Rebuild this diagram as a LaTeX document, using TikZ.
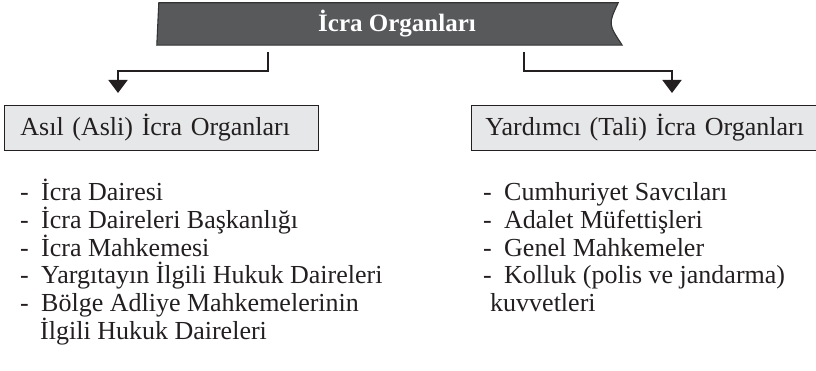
\documentclass[tikz,border=0pt]{standalone}
\usepackage{fontspec}
\setmainfont{Liberation Serif}
\usetikzlibrary{arrows.meta,backgrounds,calc}
\definecolor{bannergray}{HTML}{58595B}
\definecolor{boxgray}{HTML}{E6E7E8}
\definecolor{inkdark}{HTML}{231F20}

\begin{document}
\begin{tikzpicture}[x=1pt,y=-1pt,
  conn/.style={inkdark, line width=1.8pt, -{Triangle[length=13pt,width=19pt]}},
  headbox/.style={draw=inkdark, line width=0.9pt, fill=boxgray, anchor=north west,
    minimum height=45pt, text=inkdark, align=left, font=\fontsize{26}{28}\selectfont},
  item/.style={anchor=base west, inner sep=0pt, text=inkdark,
    font=\fontsize{26}{27.8}\selectfont}]
\useasboundingbox (0,0) rectangle (816,371);

% baslik
\node[text=white, font=\bfseries\fontsize{25}{28}\selectfont, minimum width=461pt,
  minimum height=42pt, inner sep=0pt] (title) at (389.5,24) {\hspace*{15pt}İcra Organları};
\begin{scope}[on background layer]
\fill[bannergray, draw=black!80, line width=1.1pt] (title.north west) -- ([xshift=-2pt]title.north east)
  .. controls ([xshift=-12pt]title.east) .. ([xshift=2pt]title.south east)
  -- ([xshift=-2pt]title.south west) -- cycle;
\end{scope}

% alt kutular
\node[headbox, text width=282pt, inner xsep=16pt] (lbox) at (4,105) {Asıl (Asli) İcra Organları};
\node[headbox, text width=340pt, inner xsep=14pt] (rbox) at (471,105) {Yardımcı (Tali) İcra Organları};

% oklar
\draw[conn] ([xshift=-121.5pt,yshift=-7pt]title.south) -- ++(0,19) -| ($(lbox.north west)+(114,-12)$);
\draw[conn] ([xshift=134.5pt,yshift=-7pt]title.south) -- ++(0,18.5) -| ($(rbox.north west)+(201,-12)$);

% asil organlar
\foreach \txt [count=\i] in {İcra Dairesi, İcra Daireleri Başkanlığı, İcra Mahkemesi,
    Yargıtayın İlgili Hukuk Daireleri,
    {\vtop{\hbox{Bölge Adliye Mahkemelerinin}\hbox{\hspace*{-1pt}İlgili Hukuk Daireleri}}}} {
  \node[item] (l\i) at (20,{200.5+27.8*(\i-1)}) {\makebox[21pt][l]{-}\txt};
}

% yardimci organlar
\foreach \txt [count=\i] in {Cumhuriyet Savcıları, Adalet Müfettişleri, Genel Mahkemeler,
    {\vtop{\hbox{Kolluk (polis ve jandarma)}\hbox{\hspace*{-14pt}kuvvetleri}}}} {
  \node[item] (r\i) at (483,{200.5+27.8*(\i-1)}) {\makebox[21pt][l]{-}\txt};
}
\end{tikzpicture}
\end{document}
